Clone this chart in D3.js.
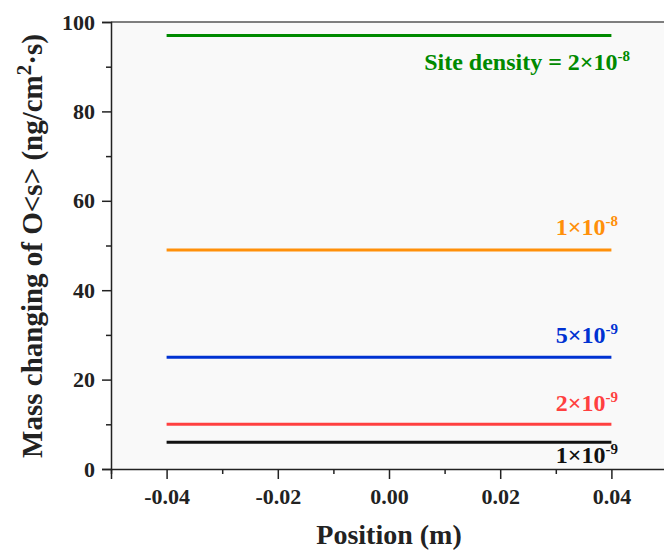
<!DOCTYPE html>
<html>
<head>
<meta charset="utf-8">
<script src="https://cdn.jsdelivr.net/npm/d3@7"></script>
<style>
  html, body { margin: 0; padding: 0; background: #fff; }
  svg text { font-family: "Liberation Serif", "Times New Roman", serif; font-weight: bold; }
</style>
</head>
<body>
<svg id="chart" width="664" height="551"></svg>
<script>
// Site-density series: mass change of O<s> along the position axis
const positions = [-0.04, 0.04];
const seriesNames = ["2e-8", "1e-8", "5e-9", "2e-9", "1e-9"];
const seriesValues = [97, 49, 25, 10, 6];
const seriesColors = ["#008a00", "#ff900a", "#0032d2", "#ff4040", "#111111"];
const seriesLabelMain = ["Site density = 2×10", "1×10", "5×10", "2×10", "1×10"];
const seriesLabelExp = ["-8", "-8", "-9", "-9", "-9"];
const xTicks = [-0.04, -0.02, 0.00, 0.02, 0.04];
const yTicks = [0, 20, 40, 60, 80, 100];

const svg = d3.select("#chart");
const plotLeft = 111, plotRight = 667, plotTop = 22, plotBottom = 469;

const x = d3.scaleLinear().domain([-0.05, 0.05]).range([plotLeft, plotRight]);
const y = d3.scaleLinear().domain([0, 100]).range([plotBottom, plotTop]);

// plot background
svg.append("rect")
  .attr("x", plotLeft).attr("y", plotTop)
  .attr("width", plotRight - plotLeft).attr("height", plotBottom - plotTop)
  .attr("fill", "#f9f9f9");

// frame top edge
svg.append("line")
  .attr("x1", plotLeft).attr("x2", plotRight)
  .attr("y1", plotTop).attr("y2", plotTop)
  .attr("stroke", "#555").attr("stroke-width", 1.5);

// x axis
const xAxis = d3.axisBottom(x)
  .tickValues(xTicks)
  .tickFormat(d => d.toFixed(2))
  .tickSize(10).tickPadding(9);
const gx = svg.append("g").attr("transform", `translate(0,${plotBottom})`).call(xAxis);
svg.append("g").attr("transform", `translate(0,${plotBottom})`)
  .call(d3.axisBottom(x).tickValues([-0.05, -0.03, -0.01, 0.01, 0.03, 0.05]).tickSize(5).tickFormat(""))
  .call(g => g.select(".domain").remove());

// y axis
const yAxis = d3.axisLeft(y).tickValues(yTicks).tickSize(9).tickPadding(7);
const gy = svg.append("g").attr("transform", `translate(${plotLeft},0)`).call(yAxis);
svg.append("g").attr("transform", `translate(${plotLeft},0)`)
  .call(d3.axisLeft(y).tickValues([10, 30, 50, 70, 90]).tickSize(5).tickFormat(""))
  .call(g => g.select(".domain").remove());

svg.selectAll(".domain").attr("stroke", "#222").attr("stroke-width", 1.5);
svg.selectAll(".tick line").attr("stroke", "#222").attr("stroke-width", 1.5);
[gx, gy].forEach(g => g.selectAll(".tick text")
  .attr("font-size", 22).attr("fill", "#222")
  .style("font-family", "Liberation Serif").style("font-weight", "bold"));

// series lines
const line = d3.line().x(d => x(d[0])).y(d => y(d[1]));
seriesValues.forEach((v, i) => {
  svg.append("path")
    .datum(positions.map(p => [p, v]))
    .attr("d", line)
    .attr("fill", "none")
    .attr("stroke", seriesColors[i])
    .attr("stroke-width", 3);
});

// series labels (the top and bottom ones sit below their lines)
const labelEnd = [630, 618, 618, 618, 618];
const labelShift = [35, -15, -14, -13, 21];
seriesValues.forEach((v, i) => {
  const t = svg.append("text")
    .attr("x", labelEnd[i])
    .attr("y", y(v) + labelShift[i])
    .attr("text-anchor", "end")
    .attr("font-size", 24)
    .attr("fill", seriesColors[i]);
  t.append("tspan").text(seriesLabelMain[i]);
  t.append("tspan").attr("dy", -9).attr("font-size", 15).text(seriesLabelExp[i]);
});

// axis titles
svg.append("text")
  .attr("x", 389).attr("y", 544)
  .attr("text-anchor", "middle")
  .attr("font-size", 28).attr("fill", "#222")
  .text("Position (m)");

const yt = svg.append("text")
  .attr("transform", `translate(42,246) rotate(-90)`)
  .attr("text-anchor", "middle")
  .attr("font-size", 29).attr("fill", "#222");
yt.append("tspan").text("Mass changing of O<s> (ng/cm");
yt.append("tspan").attr("dy", -11).attr("font-size", 21).text("2");
yt.append("tspan").attr("dy", 11).text("·s)");
</script>
</body>
</html>
